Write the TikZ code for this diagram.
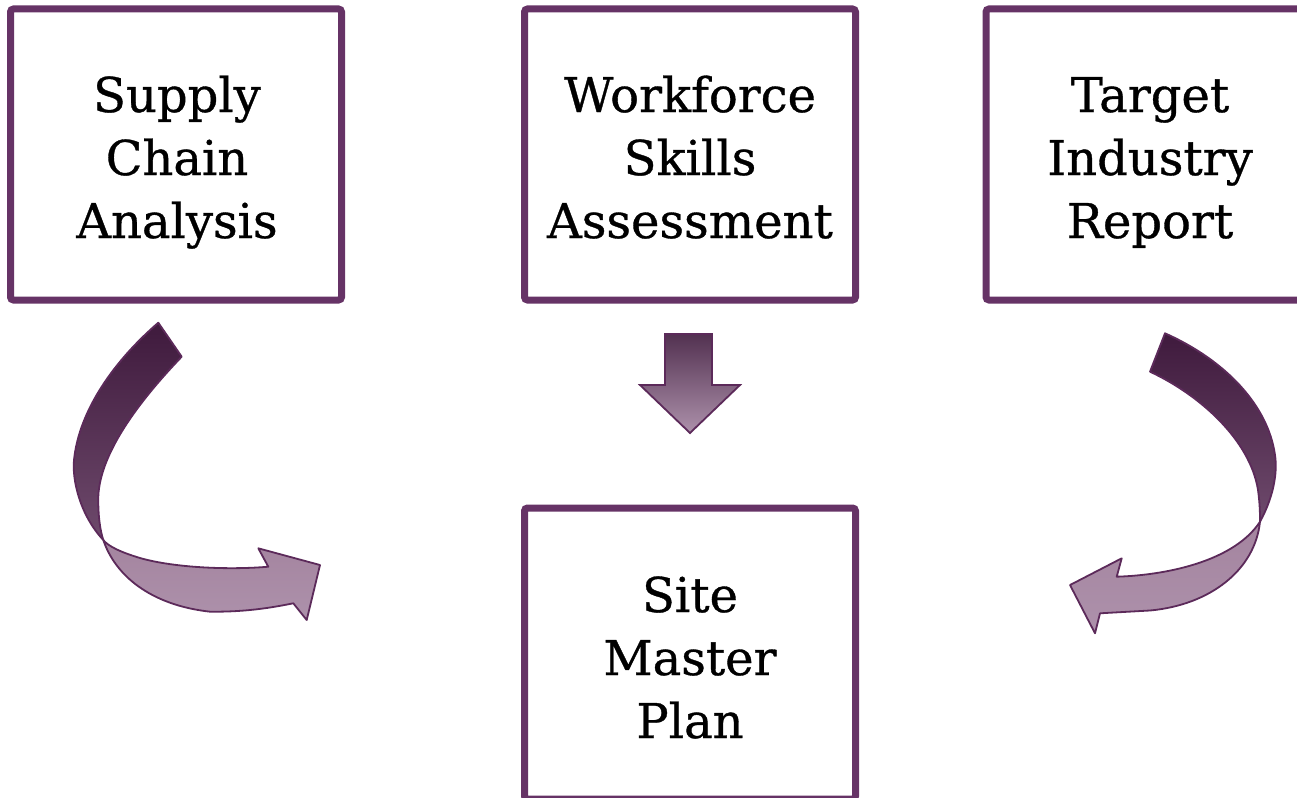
\documentclass[tikz,border=0pt]{standalone}
\usepackage{fontspec}
\setmainfont{DejaVu Serif}
\newfontfamily\boxfont{DejaVu Serif}[FakeBold=0.7]
\usetikzlibrary{shadings}
\definecolor{boxpurple}{HTML}{663366}
\definecolor{edgepurple}{HTML}{5C2A5A}
\definecolor{darkband}{HTML}{3F1A3D}
\definecolor{midband}{HTML}{6E4A6C}
\definecolor{lightband}{HTML}{A4849F}
\definecolor{lightband2}{HTML}{AD91AB}
\newcommand{\boxlines}[3]{\begin{tabular}[b]{@{}c@{}}#1\\#2\\#3\end{tabular}}
\tikzset{
  box/.style={draw=boxpurple, line width=7pt, rounded corners=3pt, fill=white,
    minimum width=331pt, minimum height=291pt, inner sep=0pt},
  lbl/.style={anchor=base, inner sep=0pt,
    font=\boxfont\fontsize{48}{63}\selectfont},
  upperband/.style={draw=edgepurple, line width=1.8pt, line join=round,
    top color=darkband, bottom color=midband},
  lowerband/.style={draw=edgepurple, line width=1.8pt, line join=round,
    top color=lightband, bottom color=lightband2},
  downarrow/.style={draw=edgepurple, line width=1.8pt, line join=miter,
    top color=darkband!90!white, bottom color=lightband2}
}
\begin{document}
\begin{tikzpicture}[x=1pt,y=-1pt]
\useasboundingbox (0,0) rectangle (1297,797);
\begin{scope}
\clip (0,0) rectangle (1297,797);
\node[box] (sca) at (176,154.5) {};
\node[box] (wsa) at (690,154.5) {};
\node[box] (tir) at (1151.5,154.5) {};
\node[box] (smp) at (690,653.5) {};
\end{scope}
\node[lbl] (scaT) at (177,238) {\boxlines{Supply}{Chain}{Analysis}};
\node[lbl] (wsaT) at (690,238) {\boxlines{Workforce}{Skills}{Assessment}};
\node[lbl] (tirT) at (1150,238) {\boxlines{Target}{Industry}{Report}};
\node[lbl] (smpT) at (690,738) {\boxlines{Site}{Master}{Plan}};

% middle down arrow
\path[downarrow] (665,334) -- (712,334) -- (712,385) -- (740,385) -- (690,433)
  -- (640,385) -- (665,385) -- cycle;

% left curved arrow: upper lobe
\path[upperband] (103.3,540)
  .. controls (80,515) and (72,480) .. (74,460)
  .. controls (79,410) and (115,360) .. (158.3,322.7)
  -- (181.7,356.7)
  .. controls (145,395) and (100,450) .. (98.3,496.7)
  .. controls (98,515) and (100,530) .. (103.3,540) -- cycle;
% left curved arrow: lower lobe with head
\path[lowerband] (103.3,540)
  .. controls (115,575) and (150,605) .. (210,611.7)
  .. controls (245,612) and (270,608) .. (293.3,603.3)
  -- (306.7,620) -- (320,565) -- (258.3,548.3) -- (268.3,566.7)
  .. controls (230,570) and (175,568) .. (140,558)
  .. controls (120,552) and (108,546) .. (103.3,540) -- cycle;

% right curved arrow: upper lobe
\path[upperband] (1260,521.7)
  .. controls (1272,500) and (1278,475) .. (1275,455)
  .. controls (1268,405) and (1225,360) .. (1165,333.3)
  -- (1150,371.7)
  .. controls (1200,395) and (1250,440) .. (1258,490)
  .. controls (1260,505) and (1260,515) .. (1260,521.7) -- cycle;
% right curved arrow: lower lobe with head
\path[lowerband] (1260,521.7)
  .. controls (1255,570) and (1210,605) .. (1150,610.5)
  -- (1100,613.3) -- (1095,633.3) -- (1070,585) -- (1121.7,558.3) -- (1116.7,576.7)
  .. controls (1170,575) and (1235,560) .. (1260,521.7) -- cycle;
\end{tikzpicture}
\end{document}
